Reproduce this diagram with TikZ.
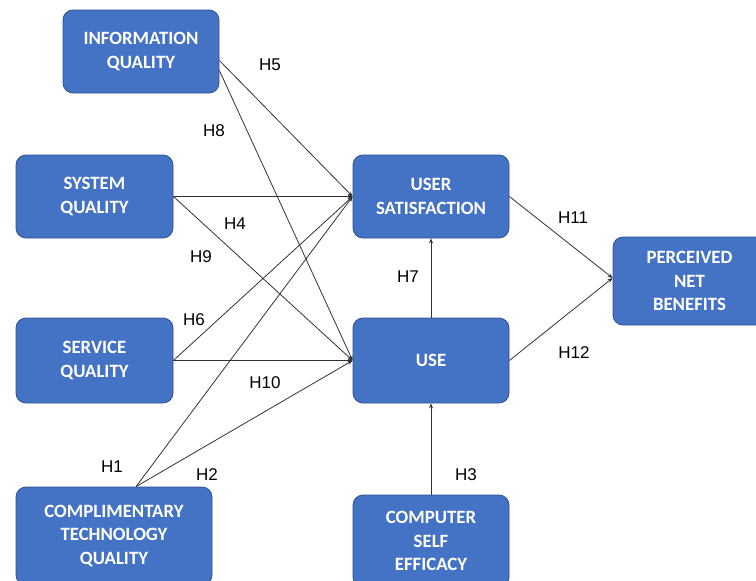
\documentclass[tikz,border=0pt]{standalone}
\usepackage{fontspec}
\setmainfont{Liberation Sans}
\newfontfamily\boxfont{Carlito}
\usetikzlibrary{arrows.meta}
\definecolor{boxblue}{RGB}{68,114,196}
\definecolor{boxedge}{RGB}{47,82,143}
\definecolor{linegray}{RGB}{50,50,50}
\tikzset{
  construct/.style={draw=boxedge, line width=0.8pt, fill=boxblue, rounded corners=10pt,
    text=white, font=\boxfont\bfseries\fontsize{18.8}{23.5}\selectfont, align=center,
    inner sep=0pt},
  link/.style={draw=linegray, line width=0.8pt, -{Stealth[length=5pt,width=4pt]}},
  hlabel/.style={font=\fontsize{17}{18}\selectfont, text=black, inner sep=0pt}
}
\begin{document}
\begin{tikzpicture}[x=1pt,y=-1pt]
\useasboundingbox (0,0) rectangle (756,581);
\begin{scope}
\clip (0,0) rectangle (756,581);
\node[construct, minimum width=156, minimum height=83] (info) at (141,51.5) {INFORMATION\\QUALITY};
\node[construct, minimum width=157, minimum height=83] (sys) at (94.5,196.5) {SYSTEM\\QUALITY};
\node[construct, minimum width=157, minimum height=85] (serv) at (94.5,360.5) {SERVICE\\QUALITY};
\node[construct, minimum width=196, minimum height=98] (comp) at (114,536) {COMPLIMENTARY\\TECHNOLOGY\\QUALITY};
\node[construct, minimum width=156, minimum height=83] (us) at (431,196.5) {USER\\SATISFACTION};
\node[construct, minimum width=156, minimum height=85] (use) at (431,360.5) {USE};
\node[construct, minimum width=153, minimum height=88] (pnb) at (689.5,281) {PERCEIVED\\NET\\BENEFITS};
\node[construct, minimum width=156, minimum height=92] (cse) at (431,541) {COMPUTER\\SELF\\EFFICACY};
\end{scope}

\draw[link] ([yshift=-9pt]info.east) -- (us.west);
\draw[link] ([yshift=-19pt]info.east) -- (use.west);
\draw[link] (sys.east) -- (us.west);
\draw[link] (sys.east) -- (use.west);
\draw[link] (serv.east) -- (us.west);
\draw[link] (serv.east) -- (use.west);
\draw[link] ([xshift=22pt]comp.north) -- (us.west);
\draw[link] ([xshift=22pt]comp.north) -- (use.west);
\draw[link] (use.north) -- (us.south);
\draw[link] (cse.north) -- (use.south);
\draw[link] (us.east) -- ([yshift=3pt]pnb.west);
\draw[link] (use.east) -- ([yshift=3pt]pnb.west);

\node[hlabel] (h5) at (270,65) {H5};
\node[hlabel] (h8) at (214,131) {H8};
\node[hlabel] (h4) at (235,224) {H4};
\node[hlabel] (h9) at (201,257) {H9};
\node[hlabel] (h6) at (194,320) {H6};
\node[hlabel] (h10) at (265,383) {H10};
\node[hlabel] (h1) at (112,467) {H1};
\node[hlabel] (h2) at (207,475) {H2};
\node[hlabel] (h7) at (408,277) {H7};
\node[hlabel] (h3) at (466,475) {H3};
\node[hlabel] (h11) at (573,218) {H11};
\node[hlabel] (h12) at (574,353) {H12};
\end{tikzpicture}
\end{document}
